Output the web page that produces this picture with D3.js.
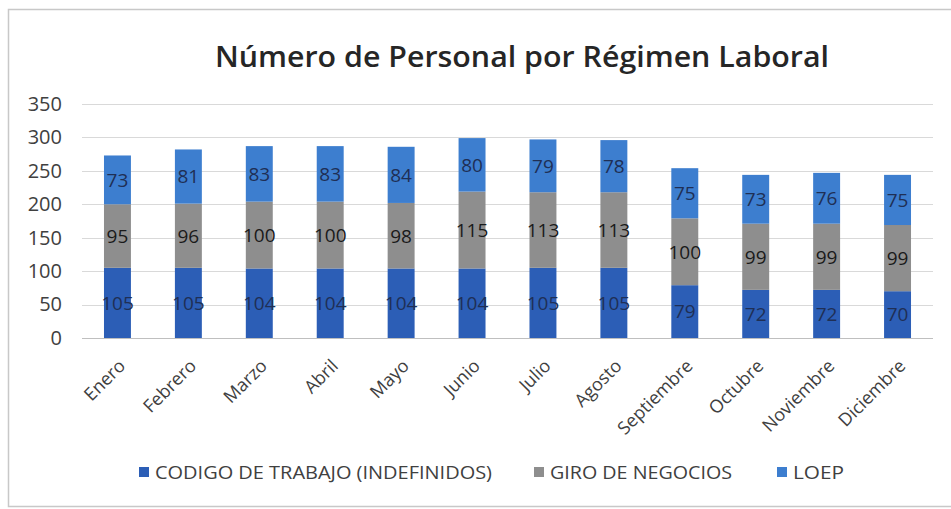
<!DOCTYPE html>
<html>
<head>
<meta charset="utf-8">
<script src="https://cdn.jsdelivr.net/npm/d3@7"></script>
<style>
  body { margin: 0; background: #fff; }
  text { font-family: "Open Sans", "Noto Sans", sans-serif; }
</style>
</head>
<body>
<div id="chart"></div>
<script>
// data
var months = ["Enero", "Febrero", "Marzo", "Abril", "Mayo", "Junio", "Julio", "Agosto",
  "Septiembre", "Octubre", "Noviembre", "Diciembre"];
var codigo = [105, 105, 104, 104, 104, 104, 105, 105, 79, 72, 72, 70];
var giro = [95, 96, 100, 100, 98, 115, 113, 113, 100, 99, 99, 99];
var loep = [73, 81, 83, 83, 84, 80, 79, 78, 75, 73, 76, 75];
var seriesNames = ["CODIGO DE TRABAJO (INDEFINIDOS)", "GIRO DE NEGOCIOS", "LOEP"];
var yTicks = [0, 50, 100, 150, 200, 250, 300, 350];

var colors = ["#2c5eb6", "#8e8e8e", "#3d7ecf"];

var svgWidth = 951;
var svgHeight = 509;
var margin = { top: 104, right: 18, bottom: 171, left: 82 };
var width = svgWidth - margin.left - margin.right;
var height = svgHeight - margin.top - margin.bottom;

var svg = d3.select("#chart")
  .append("svg")
  .attr("width", svgWidth)
  .attr("height", svgHeight);

// outer frame
svg.append("path")
  .attr("d", "M951,9.5 H8.5 V506.5 H951")
  .attr("fill", "none")
  .attr("stroke", "#c8c8c8")
  .attr("stroke-width", 1.5);

svg.append("text")
  .attr("x", 522)
  .attr("y", 67)
  .attr("text-anchor", "middle")
  .attr("font-size", 29)
  .attr("font-weight", 600)
  .attr("fill", "#262626")
  .attr("textLength", 614)
  .attr("lengthAdjust", "spacingAndGlyphs")
  .text("Número de Personal por Régimen Laboral");

var chartGroup = svg.append("g")
  .attr("transform", `translate(${margin.left}, ${margin.top})`);

var table = months.map(function(m, i) {
  return { month: m, codigo: codigo[i], giro: giro[i], loep: loep[i] };
});
var keys = ["codigo", "giro", "loep"];
var stacked = d3.stack().keys(keys)(table);

var xScale = d3.scaleBand()
  .domain(months)
  .range([0, width])
  .paddingInner(0.62)
  .paddingOuter(0.31);

var yScale = d3.scaleLinear()
  .domain([0, 350])
  .range([height, 0]);

// gridlines
chartGroup.append("g")
  .selectAll("line")
  .data(yTicks)
  .enter()
  .append("line")
  .attr("x1", 0)
  .attr("x2", width)
  .attr("y1", d => Math.round(yScale(d)) + 0.5)
  .attr("y2", d => Math.round(yScale(d)) + 0.5)
  .attr("stroke", d => d === 0 ? "#bfbfbf" : "#d9d9d9")
  .attr("stroke-width", 1);

// y axis labels
var yAxis = d3.axisLeft(yScale).tickValues(yTicks).tickSize(0).tickPadding(20);
var yG = chartGroup.append("g").call(yAxis);
yG.select(".domain").remove();
yG.selectAll("text")
  .attr("font-size", 20)
  .attr("fill", "#404040")
  .style("font-family", "'Open Sans', sans-serif");

// bars
var layers = chartGroup.selectAll(".layer")
  .data(stacked)
  .enter()
  .append("g")
  .attr("fill", (d, i) => colors[i]);

layers.selectAll("rect")
  .data(d => d)
  .enter()
  .append("rect")
  .attr("x", d => xScale(d.data.month))
  .attr("y", d => yScale(d[1]))
  .attr("width", xScale.bandwidth())
  .attr("height", d => yScale(d[0]) - yScale(d[1]));

// value labels
layers.selectAll("text")
  .data(function(d) { return d.map(v => ({ v: v, key: d.key })); })
  .enter()
  .append("text")
  .attr("x", d => xScale(d.v.data.month) + xScale.bandwidth() / 2)
  .attr("y", d => yScale((d.v[0] + d.v[1]) / 2))
  .attr("dy", "0.36em")
  .attr("text-anchor", "middle")
  .attr("font-size", 19)
  .attr("fill", d => d.key === "giro" ? "#1a1a1a" : "#1f2f55")
  .text(d => d.v.data[d.key]);

// x axis labels
var xAxis = d3.axisBottom(xScale).tickSize(0).tickPadding(0);
var xG = chartGroup.append("g")
  .attr("transform", `translate(0, ${height})`)
  .call(xAxis);
xG.select(".domain").remove();
xG.selectAll("text")
  .attr("font-size", 18)
  .attr("fill", "#404040")
  .style("font-family", "'Open Sans', sans-serif")
  .attr("text-anchor", "end")
  .attr("dy", 0)
  .attr("transform", "translate(9, 29) rotate(-45)");

// legend
var legendX = [139, 534, 777];
var legendW = [337, 182, 51];
var legend = svg.append("g")
  .selectAll("g")
  .data(seriesNames)
  .enter()
  .append("g")
  .attr("transform", (d, i) => `translate(${legendX[i]}, 472)`);

legend.append("rect")
  .attr("x", 0)
  .attr("y", -5)
  .attr("width", 10)
  .attr("height", 10)
  .attr("fill", (d, i) => colors[i]);

legend.append("text")
  .attr("x", 16)
  .attr("y", 0)
  .attr("dy", "0.36em")
  .attr("font-size", 19)
  .attr("fill", "#404040")
  .attr("textLength", (d, i) => legendW[i])
  .attr("lengthAdjust", "spacingAndGlyphs")
  .text(d => d);
</script>
</body>
</html>
